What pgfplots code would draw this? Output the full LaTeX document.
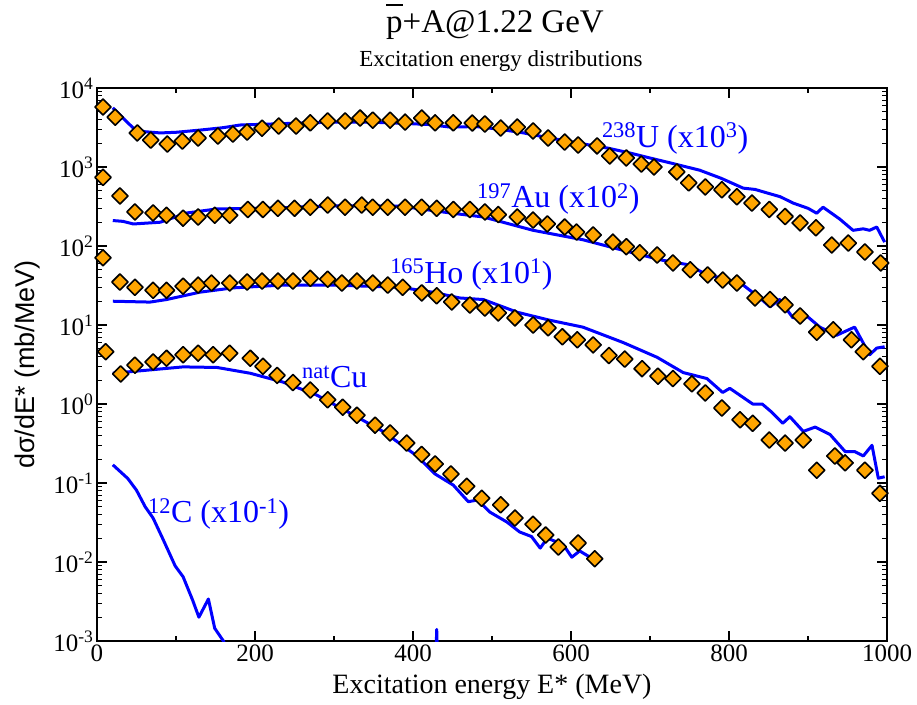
\documentclass[border=0pt]{standalone}
\usepackage{pgfplots}
\pgfplotsset{compat=1.18}
\usepackage{fontspec}
\setmainfont{Liberation Serif}
\newfontfamily\sansfont{Liberation Sans}
\definecolor{dorange}{HTML}{FFA500}

\pgfplotstableread{
x y
7.6 5750
23 4270
51 2700
68 2190
89 1950
108 2130
128 2330
153 2470
172 2610
190 2770
209 3100
230 3300
252 3300
270 3620
292 3830
314 3830
333 4170
349 3920
371 3920
390 3700
411 4170
428 3620
451 3620
475 3600
491 3500
511 3110
532 3200
552 2860
571 2330
592 2070
609 1900
633 1850
649 1380
670 1300
689 1090
705 1000
734 866
749 630
770 560
791 515
810 420
829 350
851 290
871 236
890 196
910 170
930 103
951 109
972 84
992 61
}\Udat
\pgfplotstableread{
x y
20 5600
33 4170
46 3100
60 2800
80 2700
100 2750
130 2930
160 3150
181 3400
220 3500
257 3600
300 3700
342 3700
380 3600
420 3450
447 3200
480 3250
510 3000
540 2700
573 2330
610 2000
646 1740
675 1500
700 1300
730 1100
763 910
790 720
818 540
833 520
848 470
865 420
881 350
900 300
911 260
919 310
940 220
957 158
970 165
978 158
987 174
997 112
}\Uline
\pgfplotstableread{
x y
7.6 740
29 430
48 270
71 262
88 245
109 225
128 233
149 245
168 245
191 290
210 290
229 300
250 300
270 310
292 330
314 310
335 330
349 310
368 310
390 310
411 310
430 300
451 290
472 290
491 270
508 250
532 233
552 213
570 190
592 174
607 150
628 138
653 112
670 98
687 82
709 77
729 61
751 50
773 43
792 37
810 34
833 22
852 21
871 18
890 13
911 8.1
932 8.7
955 6.5
970 4.6
991 3.0
}\Audat
\pgfplotstableread{
x y
20 210
33 205
46 190
80 200
114 262
152 295
215 300
299 323
384 320
447 262
489 233
552 158
615 120
678 82
716 66
748 58
767 46
805 35
818 32
839 22
852 17
864 21
881 12.3
894 14.2
915 9.4
936 7.4
959 9.4
978 4.2
987 5.1
997 5.3
}\Auline
\pgfplotstableread{
x y
7.6 71
29 35
48 30
71 27.5
88 27.5
109 31
128 32
145 34
168 34
190 35
209 36
229 36
248 36
270 39
292 38
310 34
329 36
349 34
368 32
387 30
411 25.5
430 23.4
449 19.6
472 17.9
491 16.4
508 14.2
529 12.3
552 10
571 9.2
589 7.1
608 6.5
628 5.6
648 4.1
668 3.7
690 2.8
710 2.25
729 2.1
753 1.8
770 1.38
791 0.89
814 0.63
830 0.57
851 0.35
871 0.32
894 0.35
911 0.145
934 0.22
947 0.18
972 0.145
991 0.074
}\Hodat
\pgfplotstableread{
x y
20 20
67 19.5
88 21
130 26
172 29.5
235 32
299 32
384 30
425 26
459 22
489 21
532 14.5
573 11.5
615 9.4
666 6.0
709 3.9
742 2.5
772 2.1
792 1.4
801 1.58
830 1.0
842 1.0
854 0.79
868 0.57
877 0.69
894 0.45
909 0.51
928 0.41
947 0.25
959 0.25
970 0.22
981 0.30
989 0.115
997 0.12
}\Holine
\pgfplotstableread{
x y
11 4.6
30 2.4
48 3.1
71 3.4
88 3.8
109 4.2
128 4.4
147 4.2
168 4.4
194 3.8
210 3.0
228 2.3
248 1.87
270 1.5
292 1.13
311 0.91
329 0.72
352 0.54
371 0.43
392 0.32
411 0.23
428 0.174
448 0.13
468 0.091
487 0.064
511 0.053
529 0.036
552 0.030
568 0.022
584 0.0155
609 0.0174
630 0.011
}\Cudat
\pgfplotstableread{
x y
20 2.45
67 2.7
109 2.95
152 2.9
194 2.45
235 1.9
278 1.3
320 0.77
362 0.45
405 0.22
428 0.13
451 0.094
470 0.058
482 0.061
497 0.043
519 0.032
535 0.024
550 0.021
561 0.015
570 0.020
590 0.0167
601 0.0115
611 0.0138
626 0.0112
}\Culine
\pgfplotstableread{
x y
20 0.17
39 0.114
50 0.081
61 0.050
71 0.036
84 0.019
99 0.0089
109 0.0065
121 0.0033
129 0.0020
141 0.0034
149 0.00145
160 0.001
170 0.0006
200 0.0002
300 0.00005
426 0.00005
430 0.0014
434 0.00005
500 0.00005
}\Cline

\begin{document}
\begin{tikzpicture}
\useasboundingbox (-97pt,-63pt) rectangle (820pt,641pt);
\begin{axis}[
  at={(0,0)}, anchor=south west,
  scale only axis, width=790pt, height=553pt,
  xmin=0, xmax=1000, ymode=log, ymin=1e-3, ymax=1e4,
  xtick={0,200,400,600,800,1000},
  xticklabels={0,200,400,600,800,1000},
  minor x tick num=1,
  ytick={1e-3,1e-2,1e-1,1,1e1,1e2,1e3,1e4},
  yticklabels={10\textsuperscript{-3},10\textsuperscript{-2},10\textsuperscript{-1},10\textsuperscript{0},10\textsuperscript{1},10\textsuperscript{2},10\textsuperscript{3},10\textsuperscript{4}},
  tick align=inside,
  major tick length=10pt, minor tick length=5pt,
  major tick style={line width=1.6pt, black},
  minor tick style={line width=1.2pt, black},
  axis line style={line width=2pt},
  tick label style={font=\fontsize{25}{28}\selectfont},
  xlabel={Excitation energy E* (MeV)},
  xlabel style={at={(axis description cs:0.5,-0.0958)}, anchor=base, font=\fontsize{28}{32}\selectfont},
  ylabel={dσ/dE* (mb/MeV)},
  ylabel style={at={(axis description cs:-0.0785,0.5)}, anchor=base, font=\sansfont\fontsize{27}{30}\selectfont},
  every axis plot/.append style={line join=round},
]
\addplot[only marks, mark=square*, mark size=5.7pt, mark options={rotate=45, fill=dorange, draw=black, line width=1.6pt}] table {\Udat};
\addplot[only marks, mark=square*, mark size=5.7pt, mark options={rotate=45, fill=dorange, draw=black, line width=1.6pt}] table {\Audat};
\addplot[only marks, mark=square*, mark size=5.7pt, mark options={rotate=45, fill=dorange, draw=black, line width=1.6pt}] table {\Hodat};
\addplot[only marks, mark=square*, mark size=5.7pt, mark options={rotate=45, fill=dorange, draw=black, line width=1.6pt}] table {\Cudat};
\addplot[blue, line width=3pt, no marks] table {\Uline};
\addplot[blue, line width=3pt, no marks] table {\Auline};
\addplot[blue, line width=3pt, no marks] table {\Holine};
\addplot[blue, line width=3pt, no marks] table {\Culine};
\addplot[blue, line width=3pt, no marks] table {\Cline};
\node[blue, anchor=base west, font=\fontsize{32}{36}\selectfont, inner sep=0pt] at (axis cs:639,1790) {\textsuperscript{238}U (x10\textsuperscript{3})};
\node[blue, anchor=base west, font=\fontsize{32}{36}\selectfont, inner sep=0pt] at (axis cs:481,303) {\textsuperscript{197}Au (x10\textsuperscript{2})};
\node[blue, anchor=base west, font=\fontsize{32}{36}\selectfont, inner sep=0pt] at (axis cs:371,34) {\textsuperscript{165}Ho (x10\textsuperscript{1})};
\node[blue, anchor=base west, font=\fontsize{32}{36}\selectfont, inner sep=0pt] at (axis cs:259.5,1.64) {\textsuperscript{nat}Cu};
\node[blue, anchor=base west, font=\fontsize{32}{36}\selectfont, inner sep=0pt] at (axis cs:64.6,0.032) {\textsuperscript{12}C (x10\textsuperscript{-1})};
\end{axis}
\node[anchor=base, font=\fontsize{33}{36}\selectfont, inner sep=0pt] at (398pt,608pt) {\makebox[0pt][l]{\raisebox{0.82em}{\rule{0.5em}{0.06em}}}p+A@1.22 GeV};
\node[anchor=base, font=\fontsize{23}{26}\selectfont, inner sep=0pt] at (404pt,574pt) {Excitation energy distributions};
\end{tikzpicture}
\end{document}
